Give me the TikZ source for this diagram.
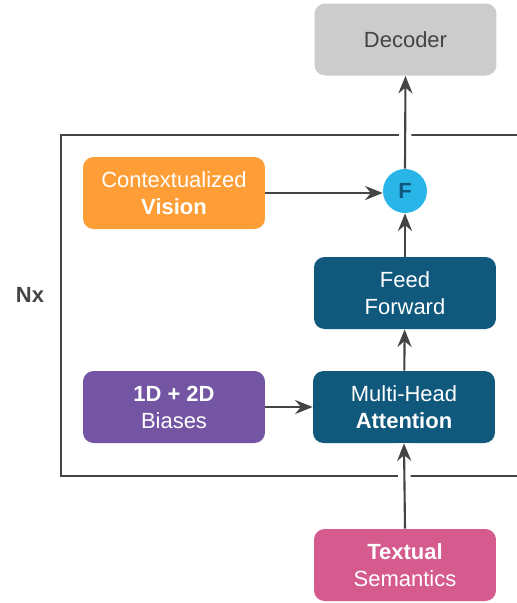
\documentclass[tikz,border=0pt]{standalone}
\usepackage{fontspec}
\setmainfont{Liberation Sans}
\usetikzlibrary{arrows.meta}
\definecolor{linegray}{HTML}{444444}
\definecolor{decgray}{HTML}{CCCCCC}
\definecolor{fuseblue}{HTML}{29B5E8}
\definecolor{deepblue}{HTML}{11587D}
\definecolor{visorange}{HTML}{FF9E36}
\definecolor{biaspurple}{HTML}{7355A4}
\definecolor{semapink}{HTML}{D55B8E}
\begin{document}
\begin{tikzpicture}[>={Stealth[length=10pt,width=8pt]},x=0.02cm,y=-0.02cm,
    block/.style={rounded corners=6pt,minimum width=3.64cm,minimum height=1.44cm,
        align=center,text=white,font=\fontsize{12.5}{15.3}\selectfont},
    link/.style={->,draw=linegray,line width=1.2pt},
    halo/.style={draw=white,line width=7pt}]
    \useasboundingbox (0,0) rectangle (517,603);
    %\draw[help lines] (0,0) grid[step=50] (517,603);
    \draw[linegray,line width=1.2pt] (540,135) -- (61,135) -- (61,476) -- (540,476);
    \node at (30,295) {\fontsize{12.5}{15}\selectfont\color{linegray}\textbf{Nx}};
    \node[block,fill=decgray,text=linegray] (dec) at (405.5,39.5) {Decoder};
    \node[circle,fill=fuseblue,minimum size=0.88cm,inner sep=0pt,
        font=\fontsize{12.5}{15}\selectfont\bfseries,text=deepblue] (fuse) at (405,191) {F};
    \node[block,fill=visorange] (vis) at (174,193) {Contextualized\\\textbf{Vision}};
    \node[block,fill=deepblue] (ffn) at (405,293) {Feed\\Forward};
    \node[block,fill=biaspurple] (bias) at (174,407) {\textbf{1D + 2D}\\Biases};
    \node[block,fill=deepblue] (mha) at (404,407) {Multi-Head\\\textbf{Attention}};
    \node[block,fill=semapink] (sem) at (405,565) {\textbf{Textual}\\Semantics};
    \draw[halo] (sem.north) -- (mha.south) (fuse.north) -- (dec.south);
    \draw[link] (sem.north) -- (mha.south);
    \draw[link] (mha) -- (ffn);
    \draw[link] (ffn) -- (fuse);
    \draw[link] (fuse.north) -- (dec.south);
    \draw[link] (vis) -- (vis -| fuse.west);
    \draw[link] (bias) -- (mha);
\end{tikzpicture}
\end{document}
